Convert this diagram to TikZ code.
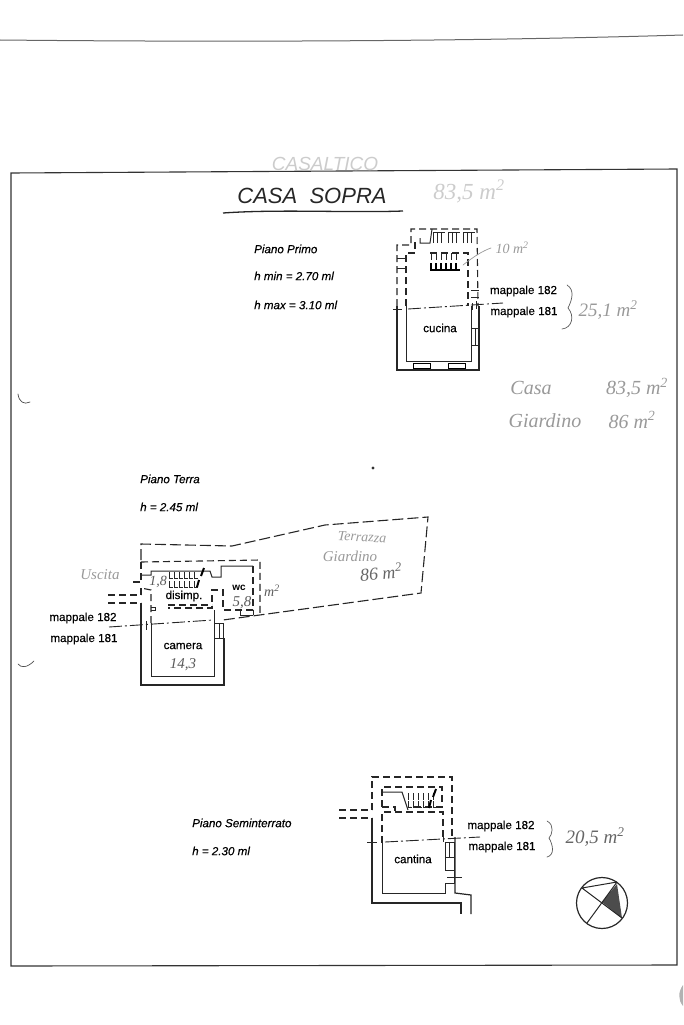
\documentclass[tikz,border=0pt]{standalone}
\usepackage{fontspec}
\setmainfont{Liberation Sans}
\newfontfamily\handfont{Liberation Serif Italic}
\newfontfamily\scanfont{Liberation Sans}[FakeBold=0.3]
\newfontfamily\scanitalic{Liberation Sans Italic}[FakeBold=0.3]
\newfontfamily\titlefont{Liberation Sans Italic}
\usetikzlibrary{positioning}
\definecolor{inkgray}{gray}{0.6}
\definecolor{palegray}{gray}{0.8}
\tikzset{
  wall/.style={line width=1.2pt,black!85},
  thin wall/.style={line width=1pt,black!85},
  hidden/.style={line width=1.1pt,black!85,dash pattern=on 7pt off 4pt},
  long hidden/.style={line width=1.1pt,black!85,dash pattern=on 11pt off 4pt},
  parcel/.style={line width=0.9pt,black!85,dash pattern=on 13pt off 3pt on 2pt off 3pt},
  room/.style={font=\fontsize{11.6}{13}\scanfont,inner sep=0pt},
  plain/.style={font=\fontsize{11.6}{13}\scanitalic,anchor=west,inner sep=0pt},
  hand/.style={font=\fontsize{14}{16}\handfont,text=inkgray,inner sep=0pt},
  big hand/.style={hand,font=\fontsize{20}{22}\handfont},
  pencil/.style={line width=0.7pt,inkgray,line cap=round}
}
\begin{document}
\begin{tikzpicture}[x=1pt,y=-1pt]
  \useasboundingbox (0,0) rectangle (683,1025);
  % scan edge and frame
  \draw[line width=1pt,black!60] (0,40) .. controls (200,42) and (450,42) .. (683,35);
  \draw[line width=1.1pt,black!80] (11,173) -- (677,169) -- (677,965) -- (11,966) -- cycle;
  \draw[pencil,black!70] (30,402) .. controls (24,405) and (19,402) .. (18,394);
  \draw[pencil,black!70] (34,661) .. controls (27,668) and (21,668) .. (18,664);
  \fill[black!80] (373,468) circle (1.6pt);
  \fill[black!30] (683,985) .. controls (678,992) and (678,1000) .. (683,1006) -- cycle;

  % title
  \node[big hand,text=palegray,font=\fontsize{19}{21}\titlefont] (casaltico) at (325,164) {CASALTICO};
  \node[big hand,text=black!85,font=\fontsize{22}{24}\titlefont] (casasopra) at (312,196) {CASA\ \ SOPRA};
  \node[big hand,text=palegray,font=\fontsize{23}{25}\handfont] (areatop) at (469,191) {83,5 m\textsuperscript{2}};
  \draw[line width=1.3pt,black!85] (223,213) .. controls (280,209) and (350,213) .. (403,211);

  % piano primo
  \node[plain] (primo) at (254,249) {Piano Primo};
  \node[plain] (primomin) at (254,276) {h min = 2.70 ml};
  \node[plain] (primomax) at (254,305) {h max = 3.10 ml};
  \draw[wall] (397,306) -- (397,370) -- (479,370) -- (479,306);
  \draw[thin wall] (406,306) -- (406,361) -- (471,361) -- (471,306);
  \draw[hidden] (397,306) -- (397,245) -- (411,245) -- (411,229) -- (477,229) -- (478,306);
  \draw[hidden] (406,306) -- (406,253) -- (415,253) -- (415,242);
  \draw[hidden] (430,253) -- (468,253) -- (468,306);
  \draw[thin wall] (420,238) -- (420,243) -- (430,243) -- (432,229);
  \draw[thin wall] (397,258) -- (406,258) (397,268) -- (406,268);
  \foreach \sx in {433,448,463}
    \foreach \dx in {0,4,8}
      \draw[thin wall] (\sx+\dx,243) -- (\sx+\dx,232) -- (\sx+\dx+4,232);
  \foreach \dx in {0,5,...,25} {
    \draw[thin wall] (431+\dx,253) -- (431+\dx,260);
    \draw[line width=1.3pt] (431+\dx,263) -- (431+\dx,270) -- (435+\dx,270);
  }
  \draw[line width=0.7pt] (413,363) rectangle (430,368) (448,363) rectangle (465,368);
  \draw[thin wall] (471,328) rectangle (479,345) (475,328) -- (475,345);
  \draw[thin wall] (471,290) -- (479,290) (471,297) -- (479,297);
  \draw[parcel] (408,309) -- (503,303);
  \draw[thin wall] (393,309) -- (402,309) (472,303) -- (472,310) (476,301) -- (476,309);
  \node[room] (cucina) at (440,328) {cucina};
  \node[room] (primo182) at (523.5,291) {mappale 182};
  \node[room] (primo181) at (524,312) {mappale 181};
  \draw[pencil] (463,265) .. controls (472,258) and (482,251) .. (491,248);
  \node[hand] (primostairs) at (512,248) {10 m\textsuperscript{2}};
  \draw[pencil,black!65] (567,285) .. controls (575,290) and (572,300) .. (568,308) .. controls (575,316) and (572,328) .. (562,329);
  \node[big hand,font=\fontsize{19}{21}\handfont] (primoarea) at (608,310) {25,1 m\textsuperscript{2}};
  \node[big hand] (casalabel) at (531,388) {Casa};
  \node[big hand] (casarea) at (637,388) {83,5 m\textsuperscript{2}};
  \node[big hand] (giardlabel) at (545,421) {Giardino};
  \node[big hand] (giardarea) at (632,420) {86 m\textsuperscript{2}};

  % piano terra
  \node[plain] (terra) at (140,479) {Piano Terra};
  \node[plain] (terrah) at (140,507) {h = 2.45 ml};
  \draw[long hidden] (141,560) -- (141,544) -- (232,546) -- (325,525) -- (428,517) -- (421,593) -- (223,620);
  \draw[hidden] (141,562) -- (260,560) -- (260,613);
  \draw[hidden] (141,562) -- (141,582) (133,582) -- (141,582) (141,588) -- (141,595);
  \draw[hidden] (108,595) -- (141,595) (108,603) -- (141,603);
  \draw[wall] (141,603) -- (141,685) -- (224,685) -- (224,638);
  \draw[thin wall] (151,623) -- (151,676) -- (214,676) -- (214,610);
  \draw[hidden] (151,623) -- (151,590) -- (141,588);
  \draw[thin wall] (141,575) -- (151,575) -- (151,571) -- (210,571) -- (212,577) -- (221,577) -- (221,566) -- (253,566);
  \draw[hidden] (253,566) -- (253,610) -- (223,610) -- (223,590) -- (212,590) -- (212,608) -- (168,608);
  \draw[hidden] (168,605) -- (212,605);
  \foreach \dx in {0,5,...,25} {
    \draw[thin wall] (169+\dx,572) -- (169+\dx,578) -- (173+\dx,578);
    \draw[thin wall] (169+\dx,581) -- (169+\dx,587) -- (173+\dx,587);
  }
  \draw[line width=2pt] (204,568) -- (201,576) (199,580) -- (197,587);
  \draw[thin wall] (214,623) rectangle (223,638) (219,623) -- (219,638);
  \draw[thin wall] (151,607) -- (155,607) -- (155,610) -- (151,610);
  \draw[thin wall] (240,610) -- (240,615) (253,610) -- (253,615) (240,615) -- (253,615);
  \draw[parcel] (109,627) -- (213,620);
  \draw[thin wall] (146,621) -- (146,630);
  \node[room] (disimp) at (184,596) {disimp.};
  \node[room,font=\fontsize{10}{12}\selectfont\bfseries] (wc) at (239,588) {wc};
  \node[room] (camera) at (183,646) {camera};
  \node[room] (terra182) at (83,618) {mappale 182};
  \node[room] (terra181) at (84,639) {mappale 181};
  \node[hand,text=black!65,font=\fontsize{15}{17}\handfont] (camerarea) at (183,665) {14,3};
  \node[hand,text=black!65,font=\fontsize{15}{17}\handfont] (wcarea) at (242,603) {5,8};
  \node[hand,text=black!65] (wcunit) at (272,591) {m\textsuperscript{2}};
  \node[hand,text=black!65] (disimparea) at (158,582) {1,8};
  \node[hand,font=\fontsize{15}{17}\handfont] (uscita) at (100,575) {Uscita};
  \node[hand,rotate=-3] (terrazza) at (362,537) {Terrazza};
  \node[hand,font=\fontsize{15}{17}\handfont] (giardino) at (350,556) {Giardino};
  \node[hand,text=black!60,font=\fontsize{18}{20}\handfont,rotate=5] (giardinoarea) at (381,572) {86 m\textsuperscript{2}};

  % piano seminterrato
  \node[plain] (semi) at (192,823) {Piano Seminterrato};
  \node[plain] (semih) at (192,851) {h = 2.30 ml};
  \draw[hidden] (372,810) -- (372,777) -- (452,777) -- (452,837);
  \draw[hidden] (339,810) -- (372,810) (339,818) -- (372,818);
  \draw[wall] (372,818) -- (372,903) -- (461,903) -- (461,914);
  \draw[wall] (455,837) -- (455,893) -- (471,895) -- (471,914);
  \draw[thin wall] (382,843) -- (382,893) -- (445,893) -- (445,883) -- (455,883);
  \draw[hidden] (382,843) -- (382,812) -- (443,812) -- (443,838);
  \draw[hidden] (382,807) -- (382,787) -- (442,787) -- (442,807) -- (410,807);
  \draw[hidden] (382,807) -- (395,807) -- (395,811);
  \draw[thin wall] (382,792) -- (402,792) -- (408,810);
  \foreach \dx in {0,5,...,25} {
    \draw[thin wall] (408+\dx,793) -- (408+\dx,800);
    \draw[thin wall] (408+\dx,801) -- (408+\dx,807) -- (412+\dx,807);
  }
  \draw[line width=2pt] (436,789) -- (433,797) (431,800) -- (429,808);
  \draw[thin wall] (445,842) rectangle (454,857) (449,842) -- (449,857) (445,857) rectangle (454,870);
  \draw[thin wall] (447,877) -- (462,877) (454,870) -- (454,883);
  \draw[parcel] (385,842) -- (480,837);
  \draw[thin wall] (367,842) -- (377,842) (443,836) -- (443,842);
  \node[room] (cantina) at (413,859) {cantina};
  \node[room] (semi182) at (501,826) {mappale 182};
  \node[room] (semi181) at (502,847) {mappale 181};
  \draw[pencil,black!65] (547,821) .. controls (555,825) and (552,835) .. (549,838) .. controls (553,845) and (555,855) .. (547,857);
  \node[big hand,text=black!60,font=\fontsize{19}{21}\handfont] (semiarea) at (595,837) {20,5 m\textsuperscript{2}};

  % north arrow
  \coordinate (north) at (602,903);
  \draw[wall] (north) circle (25.5pt);
  \fill[black!70] (617,884) -- (602,902) -- (622,918) -- cycle;
  \draw[thin wall] (582,888) -- (617,882) (582,888) -- (622,918) (617,882) -- (587,923);
\end{tikzpicture}
\end{document}
